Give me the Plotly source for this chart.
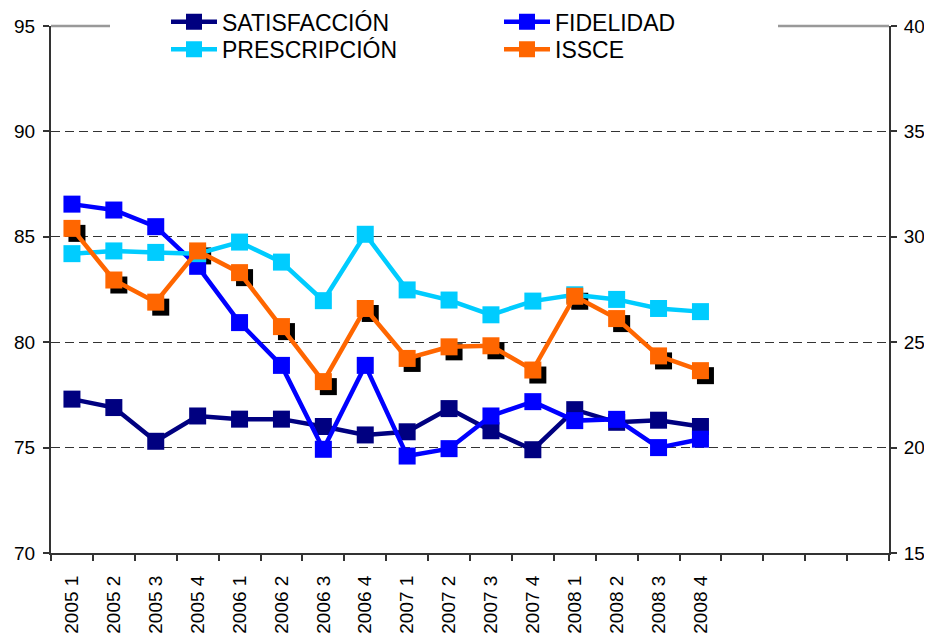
import plotly.graph_objects as go

# ---- data ----
quarters = ["2005 1", "2005 2", "2005 3", "2005 4",
            "2006 1", "2006 2", "2006 3", "2006 4",
            "2007 1", "2007 2", "2007 3", "2007 4",
            "2008 1", "2008 2", "2008 3", "2008 4"]
empty_slots = [" ", "  ", "   ", "    "]

satisfaccion = [77.3, 76.9, 75.3, 76.5, 76.35, 76.35, 76.0, 75.6,
                75.75, 76.85, 75.8, 74.9, 76.8, 76.2, 76.3, 76.0]
fidelidad = [86.55, 86.27, 85.48, 83.6, 80.93, 78.9, 74.92, 78.9,
             74.6, 74.95, 76.5, 77.18, 76.28, 76.34, 75.0, 75.4]
prescripcion = [84.2, 84.33, 84.26, 84.2, 84.75, 83.8, 81.97, 85.12,
                82.48, 82.0, 81.3, 81.95, 82.25, 82.03, 81.6, 81.45]
issce = [85.4, 82.95, 81.9, 84.33, 83.3, 80.74, 78.13, 81.6,
         79.23, 79.78, 79.83, 78.68, 82.18, 81.12, 79.35, 78.65]

# name, values, colour, legend row
series = [("SATISFACCIÓN", satisfaccion, "#000080", "legend"),
          ("FIDELIDAD", fidelidad, "#0000FF", "legend"),
          ("PRESCRIPCIÓN", prescripcion, "#00CCFF", "legend2"),
          ("ISSCE", issce, "#FF6600", "legend2")]

left_ticks = [70, 75, 80, 85, 90, 95]
grid_ticks = [75, 80, 85, 90]
right_ticks = [15, 20, 25, 30, 35, 40]

# ---- geometry (page has an 8px body margin; keep the page inside the window) ----
OFF = 8
W, H = 932 - 2 * OFF, 643 - 2 * OFF
ML, MT = 51 - OFF, 26 - OFF
PW, PH = 838, 527
MR, MB = W - ML - PW, H - MT - PH
all_cats = quarters + empty_slots
ncat = len(all_cats)
px_x = PW / ncat
px_y = PH / (95 - 70)
SH = 5  # shadow offset (px)
dx = SH / px_x
dy = SH / px_y

FONT = "Liberation Sans, Arial, sans-serif"
AX = "#333333"
MS = 17


def px2paper_x(page_x):
    return (page_x - OFF - ML) / PW


def px2paper_y(page_y):
    return 1 - (page_y - OFF - MT) / PH


fig = go.Figure()

# shadow of ISSCE markers: main (hidden) axes whose ranges are shifted by a few px
fig.add_trace(go.Scatter(
    x=quarters, y=issce, mode="markers", xaxis="x", yaxis="y",
    marker=dict(symbol="square", size=MS, color="black", line=dict(width=0)),
    showlegend=False, hoverinfo="skip"))

for name, vals, col, lg in series:
    fig.add_trace(go.Scatter(
        x=quarters, y=vals, name=name, mode="lines+markers",
        xaxis="x2", yaxis="y2", legend=lg,
        line=dict(color=col, width=4.5),
        marker=dict(symbol="square", size=MS, color=col, line=dict(width=0))))

# empty traces so that the decoration-only axes get drawn
for ya in ["y3", "y4"]:
    fig.add_trace(go.Scatter(x=[], y=[], xaxis="x2", yaxis=ya,
                             showlegend=False, hoverinfo="skip"))

cat_common = dict(type="category", categoryorder="array", categoryarray=all_cats)
tick_font = dict(size=19, family=FONT, color="black")

legend_common = dict(orientation="h", xanchor="left", yanchor="middle",
                     x=px2paper_x(166),
                     font=dict(size=23, family=FONT, color="black"),
                     bgcolor="rgba(0,0,0,0)", borderwidth=0,
                     entrywidth=272, entrywidthmode="pixels", itemwidth=46)

fig.update_layout(
    width=W, height=H, autosize=False,
    margin=dict(l=ML, r=MR, t=MT, b=MB, pad=0, autoexpand=False),
    paper_bgcolor="white", plot_bgcolor="white",
    font=dict(family=FONT, color="black", size=19),
    xaxis=dict(**cat_common, domain=[0, 1],
               range=[-0.5 - dx, ncat - 0.5 - dx], visible=False),
    yaxis=dict(domain=[0, 1], range=[70 + dy, 95 + dy], visible=False),
    xaxis2=dict(**cat_common, overlaying="x", range=[-0.5, ncat - 0.5],
                anchor="y2", tickson="boundaries", ticks="outside", ticklen=6,
                tickcolor=AX, tickwidth=1.5, showline=True, linecolor=AX,
                linewidth=2, showgrid=False, tickangle=-90,
                tickfont=tick_font, ticklabelstandoff=13),
    yaxis2=dict(overlaying="y", side="left", range=[70, 95], tickvals=left_ticks,
                anchor="x2", ticks="outside", ticklen=6, tickcolor=AX,
                tickwidth=1.5, showline=True, linecolor=AX, linewidth=2,
                showgrid=False, zeroline=False, tickfont=tick_font,
                ticklabelstandoff=4),
    yaxis3=dict(overlaying="y", side="right", range=[15, 40], tickvals=right_ticks,
                anchor="x2", ticks="outside", ticklen=6, tickcolor=AX,
                tickwidth=1.5, showline=True, linecolor=AX, linewidth=2,
                showgrid=False, zeroline=False, tickfont=tick_font,
                ticklabelstandoff=3),
    yaxis4=dict(overlaying="y", side="left", range=[70, 95], tickvals=grid_ticks,
                anchor="x2", showticklabels=False, ticks="", showline=False,
                showgrid=True, gridcolor=AX, gridwidth=1, griddash="9px,5px",
                zeroline=False),
    legend=dict(**legend_common, y=px2paper_y(21.7)),
    legend2=dict(**legend_common, y=px2paper_y(49.3)),
    shapes=[
        dict(type="line", xref="paper", yref="paper", x0=0, x1=px2paper_x(110),
             y0=1, y1=1, line=dict(color="#999999", width=2.5)),
        dict(type="line", xref="paper", yref="paper", x0=px2paper_x(778), x1=1,
             y0=1, y1=1, line=dict(color="#999999", width=2.5)),
    ],
)

fig.write_html("out.html")
